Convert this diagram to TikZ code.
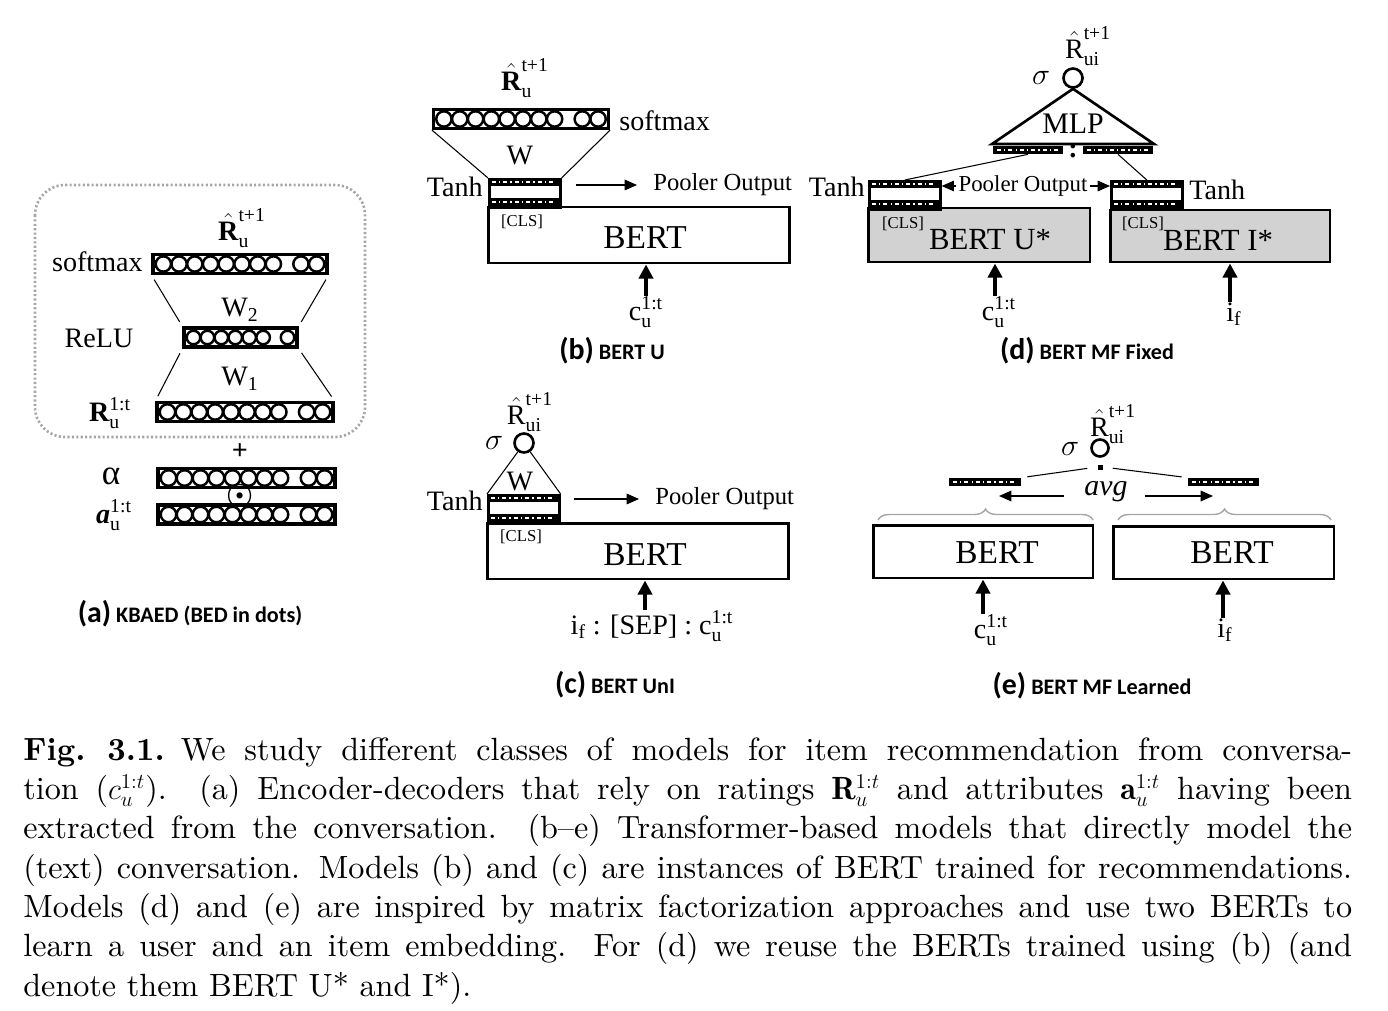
\documentclass[tikz,border=0pt]{standalone}
\usepackage{fontspec}
\usepackage{amsmath}
\usetikzlibrary{arrows.meta}
\usetikzlibrary{positioning}
\usetikzlibrary{decorations.pathreplacing}

\newfontfamily\figfont{Liberation Serif}
\newfontfamily\subfont{Carlito}
\newfontfamily\capfont{lmroman10-regular.otf}[Ligatures=TeX, BoldFont=lmroman10-bold.otf, ItalicFont=lmroman10-italic.otf]

\tikzset{
    lbl/.style={font=\figfont\fontsize{16}{19}\selectfont, inner sep=0pt},
    poollbl/.style={font=\figfont\fontsize{14}{16}\selectfont, inner sep=0pt},
    bertlbl/.style={font=\figfont\fontsize{19}{22}\selectfont, inner sep=0pt},
    clslbl/.style={font=\figfont\fontsize{9.5}{11}\selectfont, inner sep=0pt},
    subcap/.style={font=\subfont\bfseries\fontsize{12.6}{14}\selectfont, inner sep=0pt},
    bertbox/.style={draw, line width=1.7pt, inner sep=0pt},
    cbarbox/.style={draw, fill=white, line width=1.8pt, minimum height=0.38cm, inner sep=0pt},
    cdot/.style={line width=1.4pt},
    dbarbox/.style={fill=black, minimum height=0.16cm, inner sep=0pt},
    dbardash/.style={white, line width=1.1pt, dash pattern=on 2.2pt off 1.8pt on 0.7pt off 1.8pt},
    tanhbox/.style={draw, line width=1.5pt, minimum width=1.42cm, minimum height=0.56cm, inner sep=0pt, anchor=north west},
    wire/.style={line width=0.6pt},
    poolarr/.style={-{Triangle[length=7pt,width=6pt]}, line width=0.7pt},
    inarr/.style={-{Triangle[length=8pt,width=8pt]}, line width=2pt},
    sigcirc/.style={circle, draw, line width=1.5pt, minimum size=0.38cm, inner sep=0pt},
    dotbox/.style={gray!70, line width=1.5pt, dash pattern=on 1.2pt off 1.3pt, rounded corners=0.6cm},
    curly/.style={decorate, decoration={brace, amplitude=0.22cm}, gray!70, line width=0.8pt},
}

%% bar of units: name, x, y, width (px), units before gap, units after gap
\newcommand{\cbar}[6]{%
    \pgfmathsetmacro{\cbw}{#4*0.02}%
    \node[cbarbox, minimum width=\cbw cm] (#1) at (#2,#3) {};
    \pgfmathsetmacro{\cbstep}{(#4-5)/(#5+#6+0.75)}%
    \pgfmathsetmacro{\cbrad}{0.0097*\cbstep}%
    \foreach \i in {1,...,#5}
        \draw[cdot] ({#2-#4/2+2.5+(\i-0.5)*\cbstep},#3) circle [radius=\cbrad cm];
    \foreach \i in {1,...,#6}
        \draw[cdot] ({#2+#4/2-2.5-(\i-0.5)*\cbstep},#3) circle [radius=\cbrad cm];
}
%% small black vector: name, x, y, width (px)
\newcommand{\dbar}[4]{%
    \pgfmathsetmacro{\dbw}{#4*0.02}%
    \node[dbarbox, minimum width=\dbw cm] (#1) at (#2,#3) {};
    \draw[dbardash] ([xshift=2.5pt]#1.west) -- ([xshift=-2.5pt]#1.east);
}
%% tanh block on top of a BERT: name, left x, top y
\newcommand{\tanhblk}[3]{%
    \node[tanhbox] (#1) at (#2,#3) {};
    \dbar{#1t}{#2+35.5}{#3+4}{71}
    \dbar{#1b}{#2+35.5}{#3+24}{71}
}

\begin{document}
\begin{tikzpicture}[x=0.02cm, y=-0.02cm]
    \useasboundingbox (0,0) rectangle (1388,1010);

    %% (a) KBAED
    \draw[dotbox] (35,185) rectangle (365,437);
    \node[lbl] (ahat) at (242,228) {$\hat{\text{\bfseries R}}_{\text{u}}^{\text{t+1}}$};
    \cbar{asmx}{240}{264}{174}{8}{2}
    \node[lbl, anchor=east] (asmxl) at (143,262) {softmax};
    \node[lbl] (aw2) at (240,310) {$\text{W}_{\text{2}}$};
    \cbar{arelu}{240.5}{337.5}{113}{6}{1}
    \node[lbl] (arelul) at (99,338) {ReLU};
    \node[lbl] (aw1) at (240,379) {$\text{W}_{\text{1}}$};
    \cbar{arat}{245}{412}{176}{8}{2}
    \node[lbl] (aratl) at (110,413) {$\text{\bfseries R}_{\text{u}}^{\text{1:t}}$};
    \draw[wire, shorten <=3pt, shorten >=3pt] (asmx.south west) -- (arelu.north west);
    \draw[wire, shorten <=3pt, shorten >=3pt] (asmx.south east) -- (arelu.north east);
    \draw[wire, shorten <=3pt, shorten >=3pt] (arelu.south west) -- (arat.north west);
    \draw[wire, shorten <=3pt, shorten >=3pt] (arelu.south east) -- (arat.north east);

    \node[lbl] (aplus) at (240,452) {\bfseries +};
    \cbar{aalpha}{246.5}{478}{177}{8}{2}
    \node[lbl, font=\figfont\fontsize{20}{22}\selectfont] (aalphal) at (111,476) {α};
    \node[lbl] (aodot) at (240,496) {$\boldsymbol{\odot}$};
    \cbar{aattr}{246.5}{514.5}{177}{8}{2}
    \node[lbl] (aattrl) at (114,515) {$\text{\bfseries\itshape a}_{\text{u}}^{\text{1:t}}$};
    \node[subcap] (acap) at (190,614) {{\fontsize{17}{18}\selectfont (a)} KBAED (BED in dots)};

    %% (b) BERT U
    \node[lbl] (bhat) at (525,78) {$\hat{\text{\bfseries R}}_{\text{u}}^{\text{t+1}}$};
    \cbar{bsmx}{521}{119}{175}{8}{2}
    \node[lbl, anchor=west] (bsmxl) at (619,121) {softmax};
    \node[bertbox, minimum width=6.04cm, minimum height=1.12cm] (bbert) at (639,235) {};
    \tanhblk{btanh}{488}{178}
    \draw[wire] (bsmx.south west) -- (btanh.north west);
    \draw[wire] (bsmx.south east) -- (btanh.north east);
    \node[lbl] (bw) at (520,156) {W};
    \node[lbl, anchor=east] (btanhl) at (483,187) {Tanh};
    \node[clslbl] (bcls) at (522,222) {[CLS]};
    \node[bertlbl] (bbertl) at (645,238) {BERT};
    \node[poollbl, anchor=west] (bpool) at (653,185) {Pooler Output};
    \draw[poolarr, shorten <=0.28cm, shorten >=0.32cm] (bpool.west -| btanh.east) -- (bpool.west);
    \node[lbl] (bin) at (646,312) {$\text{c}_{\text{u}}^{\text{1:t}}$};
    \draw[inarr] (bin.north) -- (bin.north |- bbert.south);
    \node[subcap] (bcap) at (612,351) {{\fontsize{17}{18}\selectfont (b)} BERT U};

    %% (c) BERT UnI
    \node[lbl] (chat) at (530,412) {$\hat{\text{R}}_{\text{ui}}^{\text{t+1}}$};
    \node[sigcirc] (csig) at (524,443) {};
    \node[lbl] (csigl) at (494,443) {$\sigma$};
    \node[bertbox, minimum width=6.04cm, minimum height=1.12cm] (cbert) at (638,551) {};
    \tanhblk{ctanh}{487}{494}
    \draw[wire] (csig.235) -- (ctanh.north west);
    \draw[wire] (csig.305) -- (ctanh.north east);
    \node[lbl] (cw) at (520,482) {W};
    \node[lbl, anchor=east] (ctanhl) at (483,501) {Tanh};
    \node[clslbl] (ccls) at (521,537) {[CLS]};
    \node[bertlbl] (cbertl) at (645,555) {BERT};
    \node[poollbl, anchor=west] (cpool) at (655,499) {Pooler Output};
    \draw[poolarr, shorten <=0.26cm, shorten >=0.32cm] (cpool.west -| ctanh.east) -- (cpool.west);
    \node[lbl] (cin) at (652,626) {$\text{i}_{\text{f}}$ : [SEP] : $\text{c}_{\text{u}}^{\text{1:t}}$};
    \draw[inarr] ([xshift=-0.14cm]cin.north) -- ([xshift=-0.14cm]cin.north |- cbert.south);
    \node[subcap] (ccap) at (615,685) {{\fontsize{17}{18}\selectfont (c)} BERT UnI};

    %% (d) BERT MF Fixed
    \node[lbl] (dhat) at (1088,46) {$\hat{\text{R}}_{\text{ui}}^{\text{t+1}}$};
    \node[sigcirc] (dsig) at (1073,78) {};
    \node[lbl] (dsigl) at (1041,78) {$\sigma$};
    \coordinate (dmlpl) at (992,144);
    \coordinate (dmlpr) at (1154,144);
    \draw[line width=1.5pt, line join=miter] (dsig.south) -- (dmlpl) -- (dmlpr) -- cycle;
    \node[lbl, font=\figfont\fontsize{17}{19}\selectfont] (dmlp) at (1073,124) {MLP};
    \dbar{dcatl}{1028}{150}{70}
    \node[lbl] (dcolon) at (1073,151) {\bfseries :};
    \dbar{dcatr}{1118}{150}{70}
    \node[bertbox, fill=gray!35, minimum width=4.44cm, minimum height=1.08cm] (dbertu) at (979,235) {};
    \node[bertbox, fill=gray!35, minimum width=4.4cm, minimum height=1.04cm] (dberti) at (1220,236) {};
    \tanhblk{dtanhl}{868}{180}
    \tanhblk{dtanhr}{1110}{180}
    \draw[wire] (dcatl.south) -- (dtanhl.north);
    \draw[wire] (dcatr.south) -- (dtanhr.north);
    \node[lbl, anchor=east] (dtll) at (865,187) {Tanh};
    \node[lbl, anchor=west] (dtrl) at (1189,190) {Tanh};
    \node[clslbl] (dclsu) at (903,224) {[CLS]};
    \node[bertlbl, font=\figfont\fontsize{17.5}{20}\selectfont] (dbertul) at (990,240) {BERT U*};
    \node[clslbl] (dclsi) at (1143,224) {[CLS]};
    \node[bertlbl, font=\figfont\fontsize{17.5}{20}\selectfont] (dbertil) at (1218,240) {BERT I*};
    \node[poollbl, font=\figfont\fontsize{13}{15}\selectfont] (dpool) at (1023,186) {Pooler Output};
    \draw[poolarr, shorten <=1.5pt] (dpool.west) -- (dpool.west -| dtanhl.east);
    \draw[poolarr, shorten <=1.5pt] (dpool.east) -- (dpool.east -| dtanhr.west);
    \node[lbl] (din1) at (999,312) {$\text{c}_{\text{u}}^{\text{1:t}}$};
    \draw[inarr] ([xshift=-0.08cm]din1.north) -- ([xshift=-0.08cm]din1.north |- dbertu.south);
    \node[lbl] (din2) at (1234,314) {$\text{i}_{\text{f}}$};
    \draw[inarr] ([xshift=-0.08cm]din2.north) -- ([xshift=-0.08cm]din2.north |- dberti.south);
    \node[subcap] (dcap) at (1087,351) {{\fontsize{17}{18}\selectfont (d)} BERT MF Fixed};

    %% (e) BERT MF Learned
    \node[lbl] (ehat) at (1113,424) {$\hat{\text{R}}_{\text{ui}}^{\text{t+1}}$};
    \node[sigcirc, minimum size=0.34cm] (esig) at (1100,448) {};
    \node[lbl] (esigl) at (1070,449) {$\sigma$};
    \node[fill=black, minimum size=0.1cm, inner sep=0pt] (esq) at (1100,467) {};
    \dbar{ebarl}{985}{482}{72}
    \dbar{ebarr}{1223.5}{482}{71}
    \draw[wire, shorten <=0.2cm, shorten >=0.12cm] (esq.west) -- (ebarl.north east);
    \draw[wire, shorten <=0.2cm, shorten >=0.12cm] (esq.east) -- (ebarr.north west);
    \node[lbl, font=\figfont\itshape\fontsize{17}{19}\selectfont] (eavg) at (1106,492) {avg};
    \coordinate (eavgl) at (999,496);
    \coordinate (eavgr) at (1213,496);
    \draw[poolarr, line width=0.9pt, shorten <=0.4cm] (eavg.west |- eavgl) -- (eavgl);
    \draw[poolarr, line width=0.9pt, shorten <=0.34cm] (eavg.east |- eavgr) -- (eavgr);
    \draw[curly] (878,520) -- (1093,520);
    \draw[curly] (1118,520) -- (1331,520);
    \node[bertbox, minimum width=4.4cm, minimum height=1.06cm] (ebertl) at (983,551.5) {};
    \node[bertbox, minimum width=4.42cm, minimum height=1.06cm] (ebertr) at (1223.5,552.5) {};
    \node[bertlbl] (ebertll) at (997,553) {BERT};
    \node[bertlbl] (ebertrl) at (1232,553) {BERT};
    \node[lbl] (ein1) at (991,630) {$\text{c}_{\text{u}}^{\text{1:t}}$};
    \draw[inarr] ([xshift=-0.16cm]ein1.north) -- ([xshift=-0.16cm]ein1.north |- ebertl.south);
    \node[lbl] (ein2) at (1225,630) {$\text{i}_{\text{f}}$};
    \draw[inarr] ([xshift=-0.04cm]ein2.north) -- ([xshift=-0.04cm]ein2.north |- ebertr.south);
    \node[subcap] (ecap) at (1092,686) {{\fontsize{17}{18}\selectfont (e)} BERT MF Learned};

    %% caption
    \node[anchor=north west, text width=26.58cm, align=justify, inner sep=0pt,
          font=\capfont\fontsize{18.3}{22.4}\selectfont] (cap) at (23,737) {\tolerance=9000
        \textbf{Fig.\ 3.1.}\enspace We study different classes of models for item recommendation from conversa-\linebreak
        tion ($c_u^{1:t}$). (a) Encoder-decoders that rely on ratings $\mathbf{R}_u^{1:t}$ and attributes $\mathbf{a}_u^{1:t}$ having been\linebreak
        extracted from the conversation. (b--e) Transformer-based models that directly model the\linebreak
        (text) conversation. Models (b) and (c) are instances of BERT trained for recommendations.\linebreak
        Models (d) and (e) are inspired by matrix factorization approaches and use two BERTs to\linebreak
        learn a user and an item embedding. For (d) we reuse the BERTs trained using (b) (and\linebreak
        denote them BERT U* and I*).};
\end{tikzpicture}
\end{document}
